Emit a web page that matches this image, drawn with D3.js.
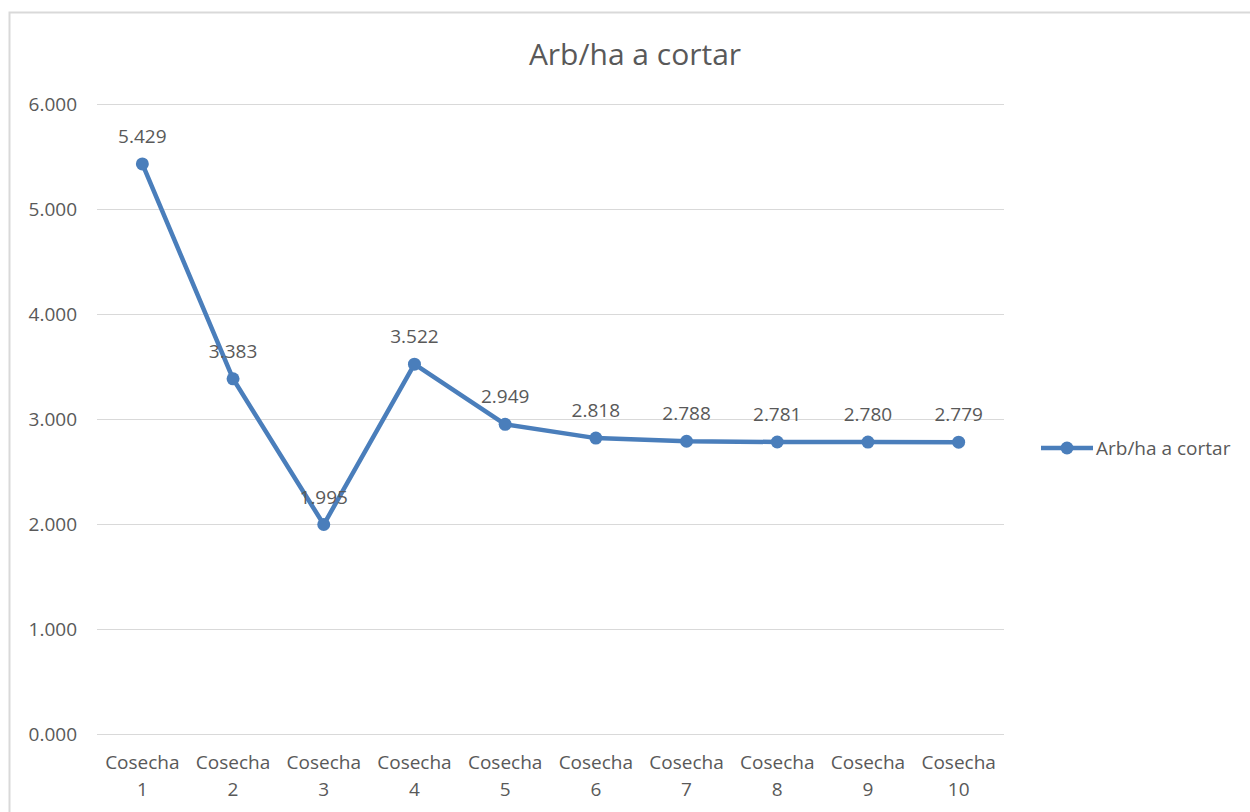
<!DOCTYPE html>
<html><head><meta charset="utf-8">
<script src="https://cdn.jsdelivr.net/npm/d3@7/dist/d3.min.js"></script>
<style>body{margin:0;background:#fff;} svg{display:block;}</style>
</head><body>
<script>
const categories = ["Cosecha 1","Cosecha 2","Cosecha 3","Cosecha 4","Cosecha 5","Cosecha 6","Cosecha 7","Cosecha 8","Cosecha 9","Cosecha 10"];
const values = [5429, 3383, 1995, 3522, 2949, 2818, 2788, 2781, 2780, 2779];
const yTicks = [0, 1000, 2000, 3000, 4000, 5000, 6000];
const seriesName = "Arb/ha a cortar";
const title = "Arb/ha a cortar";

const W = 1250, H = 812;
const font = "'Open Sans', sans-serif";
const txt = "#595959";
const color = "#4a7ebb";
const loc = d3.formatLocale({decimal: ",", thousands: ".", grouping: [3], currency: ["", ""]});
const fmt = v => { const s = loc.format(",")(v); return v < 1000 ? "0." + String(v).padStart(3, "0") : s; };

const svg = d3.select("body").append("svg").attr("width", W).attr("height", H);
// chart border
svg.append("rect").attr("x", 9.5).attr("y", 12.5).attr("width", W + 20).attr("height", H + 20)
  .attr("fill", "#fff").attr("stroke", "#d9d9d9").attr("stroke-width", 2);

const x = d3.scaleBand().domain(categories).range([97, 1004]);
const y = d3.scaleLinear().domain([0, 6000]).range([734, 104]);

// title
svg.append("text").attr("x", 635).attr("y", 65).attr("text-anchor", "middle")
  .attr("font-family", font).attr("font-size", 30).attr("fill", txt).text(title);

// gridlines
const yAxis = d3.axisLeft(y).tickValues(yTicks).tickSize(-(1004 - 97)).tickFormat(fmt).tickPadding(20);
const gy = svg.append("g").attr("transform", "translate(97,0)").call(yAxis);
gy.select(".domain").remove();
gy.selectAll(".tick line").attr("stroke", "#d9d9d9").attr("stroke-width", 1);
gy.selectAll(".tick text").attr("font-family", font).attr("font-size", 19).attr("fill", txt).attr("dy", "0.35em");

// x axis labels
const xAxis = d3.axisBottom(x).tickSize(0).tickFormat("");
const gx = svg.append("g").attr("transform", "translate(0,734)").call(xAxis);
gx.select(".domain").remove();
gx.selectAll(".tick").each(function(d) {
  const parts = d.split(" ");
  const t = d3.select(this).append("text").attr("font-family", font).attr("font-size", 19)
    .attr("fill", txt).attr("text-anchor", "middle");
  t.append("tspan").attr("x", 0).attr("y", 35).text(parts[0]);
  t.append("tspan").attr("x", 0).attr("y", 62).text(parts[1]);
});

const cx = (d, i) => x(categories[i]) + x.bandwidth() / 2;
const line = d3.line().x((d, i) => cx(d, i)).y(d => y(d));
svg.append("path").datum(values).attr("d", line).attr("fill", "none")
  .attr("stroke", color).attr("stroke-width", 4.5).attr("stroke-linejoin", "round");
svg.selectAll("circle.pt").data(values).join("circle").attr("class", "pt")
  .attr("cx", cx).attr("cy", d => y(d)).attr("r", 6.5).attr("fill", color);
svg.selectAll("text.lbl").data(values).join("text").attr("class", "lbl")
  .attr("x", cx).attr("y", d => y(d) - 21).attr("text-anchor", "middle")
  .attr("font-family", font).attr("font-size", 19).attr("fill", txt).text(fmt);

// legend
const lg = svg.append("g");
lg.append("line").attr("x1", 1041).attr("x2", 1093).attr("y1", 448).attr("y2", 448)
  .attr("stroke", color).attr("stroke-width", 4.5);
lg.append("circle").attr("cx", 1067).attr("cy", 448).attr("r", 6.5).attr("fill", color);
lg.append("text").attr("x", 1096).attr("y", 448).attr("dy", "0.35em")
  .attr("font-family", font).attr("font-size", 19).attr("fill", txt).text(seriesName);
</script>
</body></html>
